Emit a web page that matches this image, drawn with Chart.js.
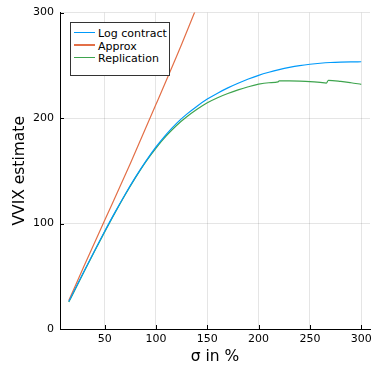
<!DOCTYPE html>
<html>
<head>
<meta charset="utf-8">
<script src="https://cdn.jsdelivr.net/npm/chart.js@4"></script>
<style>
    body { margin: 0; background: #fff; }
    #wrap { position: relative; width: 381px; height: 381px; }
    #legend {
        position: absolute; left: 70px; top: 22px; width: 98px; height: 47px;
        border: 1px solid #333; background: #fff;
        font: 11px "DejaVu Sans", sans-serif; color: #000;
        padding-top: 5px; box-sizing: content-box;
    }
    #legend div { height: 12.5px; line-height: 12.5px; white-space: nowrap; }
    #legend span.swatch { display: inline-block; width: 21px; height: 1.2px; margin: 0 3px 3px 3px; vertical-align: middle; }
</style>
</head>
<body>
<div id="wrap">
    <canvas id="chart" width="381" height="381"></canvas>
    <div id="legend"></div>
</div>
<script>
// valores
const sigma = [15, 20, 30, 40, 50, 60, 70, 80, 90, 100, 110, 120, 130, 140, 150, 160, 170, 180, 190, 200, 210, 220, 230, 240, 250, 260, 270, 280, 290, 300];
const logContract = [26, 35.7, 55, 74, 92.6, 110.6, 127.8, 144, 159, 172.6, 184.6, 195, 203.7, 211.3, 218, 223.6, 228.6, 233, 237, 240.5, 243.4, 245.9, 248, 249.7, 251, 252, 252.7, 253.1, 253.3, 253.4];

const approxSigma = [15, 30, 50, 75, 100, 125, 140, 150];
const approx = [27, 60, 103, 157, 213, 270, 306, 330];

const replSigma = [15, 20, 30, 40, 50, 60, 70, 80, 90, 100, 110, 120, 130, 140, 150, 160, 170, 180, 190, 200, 210, 219, 220, 230, 240, 250, 260, 266, 268, 280, 290, 300];
const replication = [25.5, 35.2, 54.5, 73.5, 92.1, 110.1, 127.3, 143.5, 158.5, 171.6, 183.1, 193, 201.2, 208.3, 214.5, 219.3, 223.3, 226.7, 229.7, 232.2, 233.5, 234.3, 235.2, 235.2, 235, 234.6, 233.8, 233.2, 235.8, 234.8, 233.5, 232];

const xTicks = [50, 100, 150, 200, 250, 300];
const yTicks = [0, 100, 200, 300];

const toPoints = (xs, ys) => xs.map((x, i) => ({ x: x, y: ys[i] }));

const font = '"DejaVu Sans", sans-serif';

// marcas de los ejes hacia dentro
const innerTicks = {
    id: 'innerTicks',
    afterDraw(chart) {
        const ctx = chart.ctx;
        const xs = chart.scales.x, ys = chart.scales.y;
        const area = chart.chartArea;
        ctx.save();
        ctx.strokeStyle = '#000';
        ctx.lineWidth = 1;
        ctx.beginPath();
        xTicks.forEach(v => {
            const px = Math.round(xs.getPixelForValue(v)) + 0.5;
            ctx.moveTo(px, area.bottom);
            ctx.lineTo(px, area.bottom - 4);
        });
        yTicks.forEach(v => {
            const py = Math.round(ys.getPixelForValue(v)) + 0.5;
            ctx.moveTo(area.left, py);
            ctx.lineTo(area.left + 4, py);
        });
        ctx.stroke();
        ctx.restore();
    }
};

const chart = new Chart(document.getElementById('chart'), {
    type: 'line',
    data: {
        datasets: [{
            label: 'Log contract',
            data: toPoints(sigma, logContract),
            borderColor: '#009AFA',
            borderWidth: 1.2,
            pointRadius: 0,
            cubicInterpolationMode: 'monotone'
        }, {
            label: 'Approx',
            data: toPoints(approxSigma, approx),
            borderColor: '#E36F47',
            borderWidth: 1.2,
            pointRadius: 0,
            cubicInterpolationMode: 'monotone'
        }, {
            label: 'Replication',
            data: toPoints(replSigma, replication),
            borderColor: '#3EA44E',
            borderWidth: 1.2,
            pointRadius: 0,
            cubicInterpolationMode: 'monotone'
        }]
    },
    options: {
        responsive: false,
        animation: false,
        layout: { padding: { top: 11, right: 11, left: 0, bottom: 0 } },
        plugins: { legend: { display: false }, tooltip: { enabled: false } },
        scales: {
            x: {
                type: 'linear',
                min: 6.45,
                max: 308.55,
                afterBuildTicks: s => { s.ticks = xTicks.map(v => ({ value: v })); },
                afterFit: s => { s.height = 52; },
                grid: { color: 'rgba(0,0,0,0.1)', drawTicks: false },
                border: { color: '#000', width: 1 },
                ticks: { color: '#000', font: { family: font, size: 11 }, padding: 4, maxRotation: 0 },
                title: { display: true, text: 'σ in %', color: '#000', font: { family: font, size: 15.5 }, padding: { top: 0, bottom: 15 } }
            },
            y: {
                min: 0,
                max: 300,
                afterBuildTicks: s => { s.ticks = yTicks.map(v => ({ value: v })); },
                afterFit: s => { s.width = 60; },
                grid: { color: 'rgba(0,0,0,0.1)', drawTicks: false },
                border: { color: '#000', width: 1 },
                ticks: { color: '#000', font: { family: font, size: 11 }, padding: 6 },
                title: { display: true, text: 'VVIX estimate', color: '#000', font: { family: font, size: 15.5 }, padding: { top: 11, bottom: 0 } }
            }
        }
    },
    plugins: [innerTicks]
});

// leyenda
const legend = document.getElementById('legend');
chart.data.datasets.forEach(ds => {
    const row = document.createElement('div');
    row.innerHTML = '<span class="swatch" style="background:' + ds.borderColor + '"></span>' + ds.label;
    legend.appendChild(row);
});
</script>
</body>
</html>
